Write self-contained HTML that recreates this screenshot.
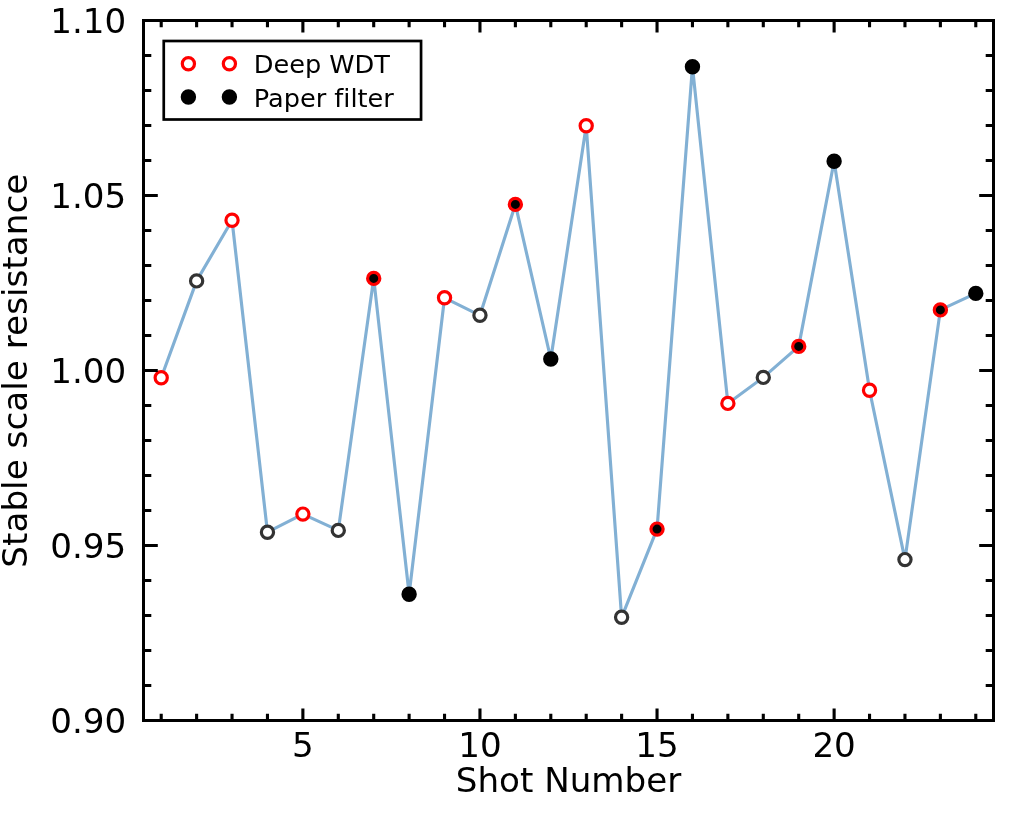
<!DOCTYPE html>
<html lang="en"><head><meta charset="utf-8"><title>Stable scale resistance</title>
<style>html,body{margin:0;padding:0;background:#fff}svg{display:block}text{font-family:'DejaVu Sans','Liberation Sans',sans-serif;fill:#000;font-variant-ligatures:none}</style></head><body>
<svg width="1024" height="819" viewBox="0 0 1024 819">
<rect width="1024" height="819" fill="#fff"/>
<polyline points="161.21,377.70 196.62,280.90 232.04,220.20 267.46,532.20 302.88,514.10 338.29,530.40 373.71,278.40 409.12,594.30 444.54,297.80 479.96,315.30 515.38,204.40 550.79,359.00 586.21,125.80 621.62,617.30 657.04,529.10 692.46,66.70 727.88,403.40 763.29,377.40 798.71,346.40 834.12,161.30 869.54,390.30 904.96,559.60 940.38,309.90 975.79,293.40" fill="none" stroke="#82b0d4" stroke-width="3.15" stroke-linejoin="round" stroke-linecap="butt"/>
<circle cx="161.21" cy="377.70" r="6.1" fill="#fff" stroke="#f00" stroke-width="3.2"/>
<circle cx="196.62" cy="280.90" r="6.1" fill="#fff" stroke="#333" stroke-width="3.2"/>
<circle cx="232.04" cy="220.20" r="6.1" fill="#fff" stroke="#f00" stroke-width="3.2"/>
<circle cx="267.46" cy="532.20" r="6.1" fill="#fff" stroke="#333" stroke-width="3.2"/>
<circle cx="302.88" cy="514.10" r="6.1" fill="#fff" stroke="#f00" stroke-width="3.2"/>
<circle cx="338.29" cy="530.40" r="6.1" fill="#fff" stroke="#333" stroke-width="3.2"/>
<circle cx="373.71" cy="278.40" r="6.1" fill="#000" stroke="#f00" stroke-width="3.2"/>
<circle cx="409.12" cy="594.30" r="6.1" fill="#000" stroke="#000" stroke-width="3.2"/>
<circle cx="444.54" cy="297.80" r="6.1" fill="#fff" stroke="#f00" stroke-width="3.2"/>
<circle cx="479.96" cy="315.30" r="6.1" fill="#fff" stroke="#333" stroke-width="3.2"/>
<circle cx="515.38" cy="204.40" r="6.1" fill="#000" stroke="#f00" stroke-width="3.2"/>
<circle cx="550.79" cy="359.00" r="6.1" fill="#000" stroke="#000" stroke-width="3.2"/>
<circle cx="586.21" cy="125.80" r="6.1" fill="#fff" stroke="#f00" stroke-width="3.2"/>
<circle cx="621.62" cy="617.30" r="6.1" fill="#fff" stroke="#333" stroke-width="3.2"/>
<circle cx="657.04" cy="529.10" r="6.1" fill="#000" stroke="#f00" stroke-width="3.2"/>
<circle cx="692.46" cy="66.70" r="6.1" fill="#000" stroke="#000" stroke-width="3.2"/>
<circle cx="727.88" cy="403.40" r="6.1" fill="#fff" stroke="#f00" stroke-width="3.2"/>
<circle cx="763.29" cy="377.40" r="6.1" fill="#fff" stroke="#333" stroke-width="3.2"/>
<circle cx="798.71" cy="346.40" r="6.1" fill="#000" stroke="#f00" stroke-width="3.2"/>
<circle cx="834.12" cy="161.30" r="6.1" fill="#000" stroke="#000" stroke-width="3.2"/>
<circle cx="869.54" cy="390.30" r="6.1" fill="#fff" stroke="#f00" stroke-width="3.2"/>
<circle cx="904.96" cy="559.60" r="6.1" fill="#fff" stroke="#333" stroke-width="3.2"/>
<circle cx="940.38" cy="309.90" r="6.1" fill="#000" stroke="#f00" stroke-width="3.2"/>
<circle cx="975.79" cy="293.40" r="6.1" fill="#000" stroke="#000" stroke-width="3.2"/>
<path d="M161.21 720.50v-6.70M161.21 20.50v6.70M196.62 720.50v-6.70M196.62 20.50v6.70M232.04 720.50v-6.70M232.04 20.50v6.70M267.46 720.50v-6.70M267.46 20.50v6.70M302.88 720.50v-12.00M302.88 20.50v12.00M338.29 720.50v-6.70M338.29 20.50v6.70M373.71 720.50v-6.70M373.71 20.50v6.70M409.12 720.50v-6.70M409.12 20.50v6.70M444.54 720.50v-6.70M444.54 20.50v6.70M479.96 720.50v-12.00M479.96 20.50v12.00M515.38 720.50v-6.70M515.38 20.50v6.70M550.79 720.50v-6.70M550.79 20.50v6.70M586.21 720.50v-6.70M586.21 20.50v6.70M621.62 720.50v-6.70M621.62 20.50v6.70M657.04 720.50v-12.00M657.04 20.50v12.00M692.46 720.50v-6.70M692.46 20.50v6.70M727.88 720.50v-6.70M727.88 20.50v6.70M763.29 720.50v-6.70M763.29 20.50v6.70M798.71 720.50v-6.70M798.71 20.50v6.70M834.12 720.50v-12.00M834.12 20.50v12.00M869.54 720.50v-6.70M869.54 20.50v6.70M904.96 720.50v-6.70M904.96 20.50v6.70M940.38 720.50v-6.70M940.38 20.50v6.70M975.79 720.50v-6.70M975.79 20.50v6.70" fill="none" stroke="#000" stroke-width="3.1"/>
<path d="M143.50 720.50h14.30M993.50 720.50h-14.30M143.50 685.50h7.80M993.50 685.50h-7.80M143.50 650.50h7.80M993.50 650.50h-7.80M143.50 615.50h7.80M993.50 615.50h-7.80M143.50 580.50h7.80M993.50 580.50h-7.80M143.50 545.50h14.30M993.50 545.50h-14.30M143.50 510.50h7.80M993.50 510.50h-7.80M143.50 475.50h7.80M993.50 475.50h-7.80M143.50 440.50h7.80M993.50 440.50h-7.80M143.50 405.50h7.80M993.50 405.50h-7.80M143.50 370.50h14.30M993.50 370.50h-14.30M143.50 335.50h7.80M993.50 335.50h-7.80M143.50 300.50h7.80M993.50 300.50h-7.80M143.50 265.50h7.80M993.50 265.50h-7.80M143.50 230.50h7.80M993.50 230.50h-7.80M143.50 195.50h14.30M993.50 195.50h-14.30M143.50 160.50h7.80M993.50 160.50h-7.80M143.50 125.50h7.80M993.50 125.50h-7.80M143.50 90.50h7.80M993.50 90.50h-7.80M143.50 55.50h7.80M993.50 55.50h-7.80M143.50 20.50h14.30M993.50 20.50h-14.30" fill="none" stroke="#000" stroke-width="2.8"/>
<rect x="143.5" y="20.5" width="850.0" height="700.0" fill="none" stroke="#000" stroke-width="3"/>
<g font-size="34.13" text-anchor="end">
<text x="126.2" y="733.00">0.90</text>
<text x="126.2" y="558.00">0.95</text>
<text x="126.2" y="383.00">1.00</text>
<text x="126.2" y="208.00">1.05</text>
<text x="126.2" y="33.00">1.10</text>
</g>
<g font-size="34.13" text-anchor="middle">
<text x="302.88" y="756.5">5</text>
<text x="479.96" y="756.5">10</text>
<text x="657.04" y="756.5">15</text>
<text x="834.12" y="756.5">20</text>
</g>
<text x="568.5" y="792.3" font-size="34.13" text-anchor="middle">Shot Number</text>
<text transform="translate(26.5 370.7) rotate(-90)" font-size="34.26" text-anchor="middle">Stable scale resistance</text>
<rect x="163.75" y="41" width="257.3" height="78.5" fill="#fff" stroke="#000" stroke-width="2.7"/>
<g fill="#fff" stroke="#f00" stroke-width="3.2"><circle cx="188.4" cy="63.7" r="6.1"/><circle cx="229.4" cy="63.7" r="6.1"/></g>
<g fill="#000" stroke="#000" stroke-width="3.2"><circle cx="188.4" cy="97" r="6.1"/><circle cx="229.4" cy="97" r="6.1"/></g>
<g font-size="25.6"><text x="253.7" y="73.1">Deep WDT</text><text x="253.7" y="106.9">Paper filter</text></g>
</svg></body></html>
